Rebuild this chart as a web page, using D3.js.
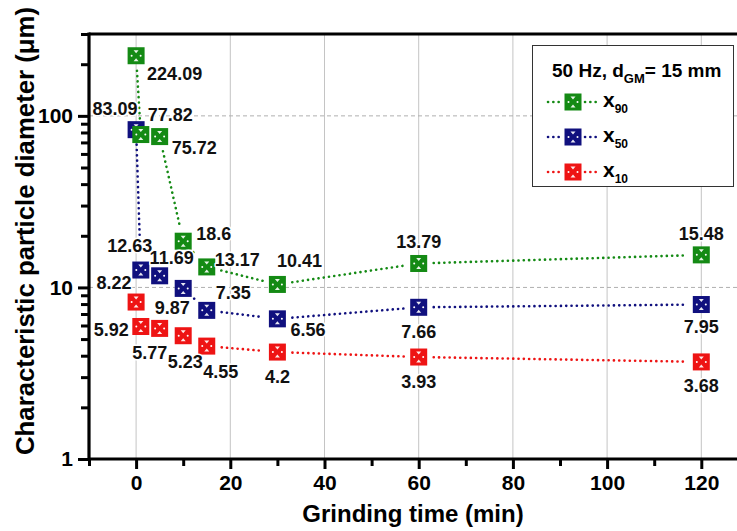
<!DOCTYPE html>
<html>
<head>
<meta charset="utf-8">
<script src="https://cdn.jsdelivr.net/npm/d3@7/dist/d3.min.js"></script>
<style>
  html, body { margin: 0; padding: 0; background: #fff; }
  svg { display: block; font-family: "Liberation Sans", Arial, sans-serif; font-weight: bold; }
</style>
</head>
<body>
<svg id="chart" width="737" height="531"></svg>
<script>
// Grinding time (min)
const times = [0, 1, 5, 10, 15, 30, 60, 120];
// Characteristic particle diameters (µm)
const x90 = [224.09, 77.82, 75.72, 18.6, 13.17, 10.41, 13.79, 15.48];
const x50 = [83.09, 12.63, 11.69, 9.87, 7.35, 6.56, 7.66, 7.95];
const x10 = [8.22, 5.92, 5.77, 5.23, 4.55, 4.2, 3.93, 3.68];

const xTickValues = [0, 20, 40, 60, 80, 100, 120];
const yTickValues = [1, 10, 100];
const legendTitle = ["50 Hz, d", "GM", "= 15 mm"];

// label placement around each marker: [dx, dy, anchor]
const labelOffsets = {
  x90: [[11, 18, "start"], [7, -20, "start"], [12, 11, "start"], [13, -8, "start"],
        [8, -7, "start"], [22, -24, "middle"], [0, -22, "middle"], [0, -21, "middle"]],
  x50: [[-21, -21, "middle"], [-11, -25, "middle"], [12, -18, "middle"], [-11, 19, "middle"],
        [9, -18, "start"], [13, 11, "start"], [0, 24, "middle"], [0, 22, "middle"]],
  x10: [[-22, -20, "middle"], [-12, 3, "end"], [-10, 24, "middle"], [2, 26, "middle"],
        [14, 25, "middle"], [0, 24, "middle"], [0, 24, "middle"], [0, 24, "middle"]]
};

const series = [
  { key: "x10", sub: "10", values: x10, color: "#ee1414" },
  { key: "x50", sub: "50", values: x50, color: "#10107e" },
  { key: "x90", sub: "90", values: x90, color: "#148a14" }
];

const svg = d3.select("#chart");
const plotLeft = 89, plotTop = 34, plotBottom = 459;

const x = d3.scaleLinear().domain([-10, 130]).range([plotLeft, plotLeft + 140 * 4.71]);
const y = d3.scaleLog().domain([1, 300]).range([plotBottom, plotTop]);

// grid
const grid = svg.append("g");
grid.selectAll("line.v").data(xTickValues).join("line")
  .attr("x1", d => x(d)).attr("x2", d => x(d))
  .attr("y1", plotTop).attr("y2", plotBottom)
  .attr("stroke", "#c4c4c4").attr("stroke-width", 1);
grid.selectAll("line.h").data([10, 100]).join("line")
  .attr("x1", plotLeft).attr("x2", 737)
  .attr("y1", d => y(d)).attr("y2", d => y(d))
  .attr("stroke", "#b0b0b0").attr("stroke-width", 1)
  .attr("stroke-dasharray", "4 3");

// axes
const yAxis = d3.axisLeft(y).tickValues(yTickValues).tickFormat(d3.format("d"))
  .tickSize(11).tickPadding(5);
const yMinor = d3.axisLeft(y)
  .tickValues([2, 3, 4, 5, 6, 7, 8, 9, 20, 30, 40, 50, 60, 70, 80, 90, 200, 300])
  .tickFormat("").tickSize(8);
const xAxis = d3.axisBottom(x).tickValues(xTickValues).tickFormat(d3.format("d"))
  .tickSize(10).tickPadding(6);
const xMinor = d3.axisBottom(x).tickValues([-10, 10, 30, 50, 70, 90, 110, 130])
  .tickFormat("").tickSize(7);

function styleAxis(g) {
  g.select(".domain").remove();
  g.selectAll(".tick line").attr("stroke", "#000").attr("stroke-width", 3);
  g.selectAll(".tick text").attr("fill", "#000")
    .style("font-size", "21px").style("font-weight", "bold")
    .style("font-family", "'Liberation Sans', Arial, sans-serif");
}
svg.append("g").attr("transform", `translate(${plotLeft},0)`).call(yMinor).call(styleAxis);
svg.append("g").attr("transform", `translate(${plotLeft},0)`).call(yAxis).call(styleAxis);
svg.append("g").attr("transform", `translate(0,${plotBottom})`).call(xMinor).call(styleAxis);
svg.append("g").attr("transform", `translate(0,${plotBottom})`).call(xAxis).call(styleAxis);

// frame: left, bottom and top lines
svg.append("line").attr("x1", plotLeft).attr("x2", plotLeft)
  .attr("y1", plotTop - 1.5).attr("y2", plotBottom + 1.5)
  .attr("stroke", "#000").attr("stroke-width", 3.2);
svg.append("line").attr("x1", plotLeft).attr("x2", 737).attr("y1", plotBottom).attr("y2", plotBottom)
  .attr("stroke", "#000").attr("stroke-width", 3.2);
svg.append("line").attr("x1", plotLeft).attr("x2", 737).attr("y1", plotTop).attr("y2", plotTop)
  .attr("stroke", "#000").attr("stroke-width", 3.2);

// axis titles
svg.append("text").attr("transform", "translate(34,231) rotate(-90)")
  .attr("text-anchor", "middle").style("font-size", "25px")
  .attr("textLength", 448).attr("lengthAdjust", "spacingAndGlyphs")
  .text("Characteristic particle diameter (μm)");
svg.append("text").attr("x", 413).attr("y", 522)
  .attr("text-anchor", "middle").style("font-size", "24px")
  .text("Grinding time (min)");

// dotted connector that stops short of both markers
function drawSegment(g, ax, ay, bx, by, gap, color) {
  const dx = bx - ax, dy = by - ay, len = Math.hypot(dx, dy);
  if (len <= 2 * gap + 2) return;
  const ux = dx / len, uy = dy / len;
  g.append("line")
    .attr("x1", ax + ux * gap).attr("y1", ay + uy * gap)
    .attr("x2", bx - ux * gap).attr("y2", by - uy * gap)
    .attr("stroke", color).attr("stroke-width", 2.6)
    .attr("stroke-linecap", "round").attr("stroke-dasharray", "0.1 5.2");
}

// square marker with small white inner ticks
function drawMarker(g, cx, cy, color) {
  const m = g.append("g").attr("transform", `translate(${cx},${cy})`);
  m.append("rect").attr("x", -8.5).attr("y", -8.5).attr("width", 17).attr("height", 17)
    .attr("fill", color);
  m.append("path").attr("d", "M-2.5,-5.5 L2.5,-5.5 L0,-2.5 Z M-2.5,5.5 L2.5,5.5 L0,2.5 Z")
    .attr("fill", "#fff").attr("opacity", 0.9);
  m.append("circle").attr("cx", -4.5).attr("cy", 0).attr("r", 1).attr("fill", "#fff");
  m.append("circle").attr("cx", 4.5).attr("cy", 0).attr("r", 1).attr("fill", "#fff");
}

const linesG = svg.append("g");
const markersG = svg.append("g");
const labelsG = svg.append("g");

series.forEach(s => {
  const pts = times.map((t, i) => [x(t), y(s.values[i])]);
  for (let i = 0; i < pts.length - 1; i++) {
    drawSegment(linesG, pts[i][0], pts[i][1], pts[i + 1][0], pts[i + 1][1], 15, s.color);
  }
  pts.forEach(p => drawMarker(markersG, p[0], p[1], s.color));
  s.values.forEach((v, i) => {
    const [dx, dy, anchor] = labelOffsets[s.key][i];
    labelsG.append("text")
      .attr("x", pts[i][0] + dx).attr("y", pts[i][1] + dy)
      .attr("dy", "0.36em").attr("text-anchor", anchor)
      .style("font-size", "18px").attr("fill", "#111")
      .attr("stroke", "#fff").attr("stroke-width", 3).attr("paint-order", "stroke")
      .attr("stroke-linejoin", "round")
      .text(String(v));
  });
});

// legend
const lg = svg.append("g");
lg.append("rect").attr("x", 532.5).attr("y", 45.5).attr("width", 201).attr("height", 141)
  .attr("fill", "#fff").attr("stroke", "#333").attr("stroke-width", 1);
const lt = lg.append("text").attr("x", 552).attr("y", 77).style("font-size", "19px");
lt.append("tspan").text(legendTitle[0]);
lt.append("tspan").attr("dy", 6).style("font-size", "13px").text(legendTitle[1]);
lt.append("tspan").attr("dy", -6).text(legendTitle[2]);

const legendRows = [series[2], series[1], series[0]];
legendRows.forEach((s, i) => {
  const cy = 102 + i * 35;
  drawSegment(lg, 548, cy, 561, cy, 0, s.color);
  drawSegment(lg, 585, cy, 598, cy, 0, s.color);
  drawMarker(lg, 573, cy, s.color);
  const t = lg.append("text").attr("x", 603).attr("y", cy + 5).style("font-size", "21px");
  t.append("tspan").text("x");
  t.append("tspan").attr("dy", 6).style("font-size", "12px").text(s.sub);
});
</script>
</body>
</html>
